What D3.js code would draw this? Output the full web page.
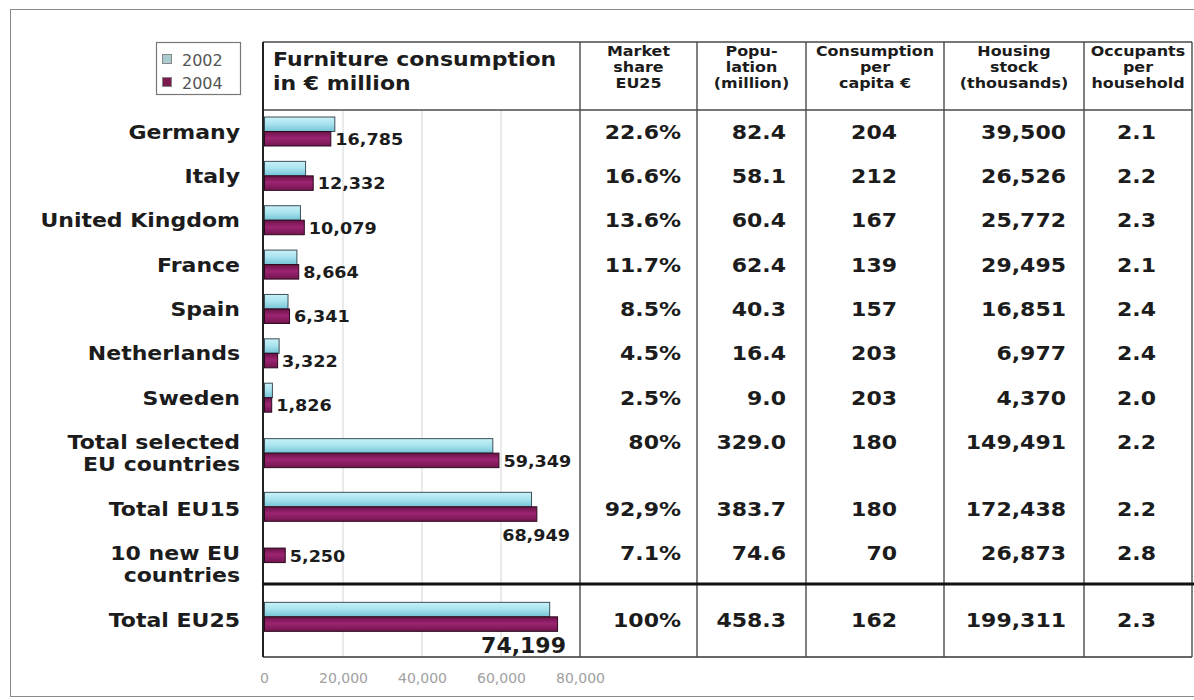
<!DOCTYPE html>
<html>
<head>
<meta charset="utf-8">
<script src="https://cdn.jsdelivr.net/npm/d3@7"></script>
<style>
  html, body { margin: 0; padding: 0; background: #fff; }
  svg { display: block; }
</style>
</head>
<body>
<svg id="chart" width="1194" height="700"></svg>
<script>
// ---------------- DATA ----------------
const rowLabels = [
  ["Germany"], ["Italy"], ["United Kingdom"], ["France"], ["Spain"],
  ["Netherlands"], ["Sweden"], ["Total selected", "EU countries"],
  ["Total EU15"], ["10 new EU", "countries"], ["Total EU25"]
];
const years = ["2002", "2004"];
const consumption2002 = [17800, 10400, 9100, 8200, 5950, 3700, 2000, 57800, 67600, null, 72200];
const consumption2004 = [16785, 12332, 10079, 8664, 6341, 3322, 1826, 59349, 68949, 5250, 74199];
const marketShare = ["22.6%", "16.6%", "13.6%", "11.7%", "8.5%", "4.5%", "2.5%", "80%", "92,9%", "7.1%", "100%"];
const population = ["82.4", "58.1", "60.4", "62.4", "40.3", "16.4", "9.0", "329.0", "383.7", "74.6", "458.3"];
const perCapita = ["204", "212", "167", "139", "157", "203", "203", "180", "180", "70", "162"];
const housingStock = ["39,500", "26,526", "25,772", "29,495", "16,851", "6,977", "4,370", "149,491", "172,438", "26,873", "199,311"];
const occupants = ["2.1", "2.2", "2.3", "2.1", "2.4", "2.4", "2.0", "2.2", "2.2", "2.8", "2.3"];
const xTicks = [0, 20000, 40000, 60000, 80000];
const chartTitle = ["Furniture consumption", "in \u20AC million"];
const columnHeaders = [
  ["Market", "share", "EU25"],
  ["Popu-", "lation", "(million)"],
  ["Consumption", "per", "capita \u20AC"],
  ["Housing", "stock", "(thousands)"],
  ["Occupants", "per", "household"]
];

// ---------------- LAYOUT ----------------
const FONT = "'DejaVu Sans', Verdana, sans-serif";
const SX = 1.1;               // horizontal stretch of the lettering
const textSlot = [0, 1, 2, 3, 4, 5, 6, 7, 8.5, 9.5, 11];
const barSlot  = [0, 1, 2, 3, 4, 5, 6, 7.25, 8.46, 9.39, 10.94];
const labelMode = ["r","r","r","r","r","r","r","r","below","r","big"];
const colLines = [580, 697, 806, 944, 1084, 1192];
const colRight = [681, 786, 897, 1066, 1156];
const tableTop = 42, headBottom = 110, tableBottom = 657, thickY = 584, chartLeft = 264;

const svg = d3.select("#chart");
const defs = svg.append("defs");

function grad(id, stops) {
  const g = defs.append("linearGradient").attr("id", id)
    .attr("x1", 0).attr("y1", 0).attr("x2", 0).attr("y2", 1);
  stops.forEach(s => g.append("stop").attr("offset", s[0]).attr("stop-color", s[1]));
}
grad("g2002", [[0, "#c9f1f7"], [0.5, "#a6e2ee"], [1, "#74c3d6"]]);
grad("g2004", [[0, "#6b1247"], [0.45, "#9c2472"], [1, "#731550"]]);

function stext(g, x, y, str, o = {}) {
  return g.append("text")
    .attr("transform", `translate(${x},${y}) scale(${o.sx ?? SX},1)`)
    .attr("text-anchor", o.anchor || "start")
    .attr("font-family", FONT)
    .attr("font-weight", o.weight || "bold")
    .attr("font-size", o.size || 20)
    .attr("fill", o.fill || "#1c1c1c")
    .text(str);
}

// scales
const x = d3.scaleLinear().domain([0, 80000]).range([chartLeft, 580]);
const y = d3.scaleLinear().domain([0, 11]).range([131.5, 619.5]);
const barH = 14.5;

// outer frame
svg.append("rect").attr("x", 10.5).attr("y", 9.5).attr("width", 1190).attr("height", 687)
  .attr("fill", "none").attr("stroke", "#8a8a8a").attr("stroke-width", 1);

// gridlines
svg.append("g").selectAll("line").data(xTicks.filter(d => d > 0 && d < 80000)).join("line")
  .attr("x1", d => x(d)).attr("x2", d => x(d))
  .attr("y1", headBottom).attr("y2", tableBottom)
  .attr("stroke", "#dcdcdc").attr("stroke-width", 1.2);

// table frame
const frame = svg.append("g").attr("stroke", "#4a4a4a").attr("fill", "none");
frame.append("line").attr("x1", chartLeft - 1).attr("x2", 1192).attr("y1", tableTop).attr("y2", tableTop).attr("stroke-width", 1.5);
frame.append("line").attr("x1", chartLeft - 1).attr("x2", 1192).attr("y1", headBottom).attr("y2", headBottom).attr("stroke-width", 1.5);
frame.append("line").attr("x1", chartLeft - 1).attr("x2", 1192).attr("y1", tableBottom).attr("y2", tableBottom).attr("stroke-width", 2).attr("stroke", "#666");
frame.append("line").attr("x1", chartLeft - 1).attr("x2", chartLeft - 1).attr("y1", tableTop).attr("y2", tableBottom).attr("stroke-width", 2).attr("stroke", "#222");
colLines.forEach(cx => frame.append("line").attr("x1", cx).attr("x2", cx).attr("y1", tableTop).attr("y2", tableBottom).attr("stroke-width", 1.4));
svg.append("line").attr("x1", chartLeft - 1).attr("x2", 1194).attr("y1", thickY).attr("y2", thickY)
  .attr("stroke", "#111").attr("stroke-width", 3);

// legend
const leg = svg.append("g");
leg.append("rect").attr("x", 156.5).attr("y", 42.5).attr("width", 84).attr("height", 52)
  .attr("fill", "#fff").attr("stroke", "#777").attr("stroke-width", 1.2);
const legFill = ["#a9cdcf", "#7a1a4e"];
years.forEach((yr, i) => {
  leg.append("rect").attr("x", 162.5).attr("y", 54.5 + i * 23).attr("width", 9).attr("height", 9)
    .attr("fill", legFill[i]).attr("stroke", "#888").attr("stroke-width", 1);
  stext(leg, 182, 66 + i * 23, yr, { weight: "normal", size: 16, fill: "#555", sx: 1 });
});

// title of the bar column
chartTitle.forEach((t, i) => stext(svg, 273, 66 + i * 24, t, { size: 20 }));

// column headers
columnHeaders.forEach((lines, c) => {
  const cx = (colLines[c] + colLines[c + 1]) / 2;
  lines.forEach((t, j) => stext(svg, cx, 56 + j * 16, t, { size: 14.5, anchor: "middle" }));
});

// row labels
rowLabels.forEach((lines, i) => {
  lines.forEach((t, j) => stext(svg, 240, y(textSlot[i] + j * 0.5) + 7, t, { anchor: "end", size: 20 }));
});

// bars
const bars = svg.append("g");
const series = [consumption2002, consumption2004];
series.forEach((vals, s) => {
  bars.selectAll(null).data(vals.map((v, i) => ({ v, i })).filter(d => d.v != null)).join("rect")
    .attr("x", x(0) + 0.5)
    .attr("y", d => y(barSlot[d.i]) - barH + s * barH)
    .attr("width", d => x(d.v) - x(0))
    .attr("height", barH)
    .attr("fill", s === 0 ? "url(#g2002)" : "url(#g2004)")
    .attr("stroke", s === 0 ? "#3a4f57" : "#2a0a1c")
    .attr("stroke-width", 1);
});

// bar value labels (2004)
const fmt = d3.format(",");
consumption2004.forEach((v, i) => {
  const cy = y(barSlot[i]);
  if (labelMode[i] === "r") {
    stext(svg, x(v) + 5, cy + 13.5, fmt(v), { size: 16 });
  } else if (labelMode[i] === "below") {
    stext(svg, 570, cy + 34, fmt(v), { size: 16, anchor: "end" });
  } else {
    stext(svg, 566, cy + 36, fmt(v), { size: 22, anchor: "end", sx: 1.0 });
  }
});

// table columns
const columns = [marketShare, population, perCapita, housingStock, occupants];
columns.forEach((col, c) => {
  col.forEach((t, i) => stext(svg, colRight[c], y(textSlot[i]) + 7, t, { anchor: "end", size: 20 }));
});

// x axis
const axis = svg.append("g").attr("transform", "translate(0,676)")
  .call(d3.axisBottom(x).tickValues(xTicks).tickFormat(fmt).tickSize(0));
axis.select(".domain").remove();
axis.selectAll("text").attr("font-family", FONT).attr("font-size", 14)
  .attr("fill", "#a0a0a0").attr("dy", "0.3em");
</script>
</body>
</html>
